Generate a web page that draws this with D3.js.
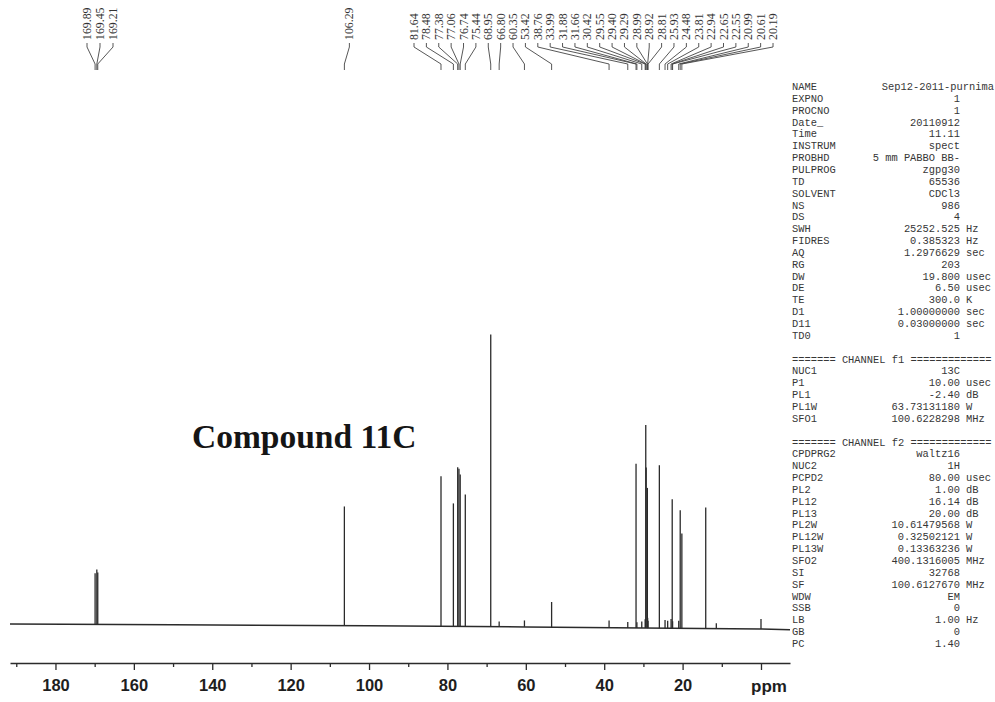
<!DOCTYPE html>
<html><head><meta charset="utf-8">
<script src="https://cdn.jsdelivr.net/npm/d3@7"></script>
<style>
html,body{margin:0;padding:0;background:#fff;}
svg{display:block;}
</style></head><body>
<svg id="chart" width="995" height="702"></svg>
<script>
// 13C peak list: chemical shift (ppm) and relative intensity (tallest = 100)
const peakShifts = [169.89,169.45,169.21,106.29,81.64,78.48,77.38,77.06,76.74,75.44,68.95,66.80,60.35,53.42,
  38.76,33.99,31.88,31.66,30.42,29.55,29.40,29.29,28.99,28.92,28.81,25.93,24.48,23.81,22.94,22.65,22.55,
  20.99,20.61,20.19,14.10,11.40,0.00];
const peakIntensities = [17.5,18.8,17.8,40.8,51.4,42.1,54.5,54.0,52.0,45.2,100,1.8,2.2,8.6,
  2.5,2.0,56.2,2.0,2.2,3.0,69.5,55.0,48.0,3.5,2.5,55.8,2.8,2.6,3.2,44.2,2.4,
  2.6,40.4,32.5,41.4,1.8,3.4];

// peak-pick labels printed above the spectrum, one group per connector fan
const labelGroupA = [169.89,169.45,169.21];
const labelGroupB = [106.29];
const labelGroupC = [81.64,78.48,77.38,77.06,76.74,75.44,68.95,66.80,60.35,53.42,38.76,33.99,31.88,31.66,
  30.42,29.55,29.40,29.29,28.99,28.92,28.81,25.93,24.48,23.81,22.94,22.65,22.55,20.99,20.61,20.19];

// slow baseline drift (ppm, relative intensity)
const baselinePpm = [191.6,150,100,60,30,0,-7.4];
const baselineLevel = [0.7,0.4,0.1,-0.3,-0.7,-1.0,-1.3];

// axis ticks
const majorTicks = [180,160,140,120,100,80,60,40,20,0];
const minorTicks = [190,170,150,130,110,90,70,50,30,10];

// acquisition / processing parameters
const acqNames  = ["EXPNO","PROCNO","Date_","Time","INSTRUM","PROBHD","PULPROG","TD","SOLVENT","NS","DS","SWH","FIDRES","AQ","RG","DW","DE","TE","D1","D11","TD0"];
const acqValues = ["1","1","20110912","11.11","spect","5 mm PABBO BB-","zgpg30","65536","CDCl3","986","4","25252.525","0.385323","1.2976629","203","19.800","6.50","300.0","1.00000000","0.03000000","1"];
const acqUnits  = ["","","","","","","","","","","","Hz","Hz","sec","","usec","usec","K","sec","sec",""];
const f1Names  = ["NUC1","P1","PL1","PL1W","SFO1"];
const f1Values = ["13C","10.00","-2.40","63.73131180","100.6228298"];
const f1Units  = ["","usec","dB","W","MHz"];
const f2Names  = ["CPDPRG2","NUC2","PCPD2","PL2","PL12","PL13","PL2W","PL12W","PL13W","SFO2","SI","SF","WDW","SSB","LB","GB","PC"];
const f2Values = ["waltz16","1H","80.00","1.00","16.14","20.00","10.61479568","0.32502121","0.13363236","400.1316005","32768","100.6127670","EM","0","1.00","0","1.40"];
const f2Units  = ["","","usec","dB","dB","dB","W","W","W","MHz","","MHz","","","Hz","",""];
const sampleName = "Sep12-2011-purnima";
const compoundTitle = "Compound 11C";

const svg = d3.select("#chart");
const ink = "#2b2b2b";

const x = d3.scaleLinear().domain([191.6, -7.4]).range([10, 790]);
const y = d3.scaleLinear().domain([0, 100]).range([626, 334]);
const drift = d3.scaleLinear().domain(baselinePpm).range(baselineLevel);

// baseline
const basePts = baselinePpm.map(p => [p, drift(p)]);
svg.append("path")
  .attr("d", d3.line().x(d => x(d[0])).y(d => y(d[1]))(basePts))
  .attr("fill", "none").attr("stroke", ink).attr("stroke-width", 1.5);

// peaks
const peaks = peakShifts.map((p, i) => ({ppm: p, h: peakIntensities[i]}));
svg.append("g").selectAll("line").data(peaks).join("line")
  .attr("x1", d => x(d.ppm)).attr("x2", d => x(d.ppm))
  .attr("y1", d => y(drift(d.ppm)))
  .attr("y2", d => y(drift(d.ppm) + d.h))
  .attr("stroke", ink).attr("stroke-width", 1.3);

// axis
const axisY = 663;
const axisG = svg.append("g").attr("transform", `translate(0,${axisY})`);
axisG.call(d3.axisBottom(x).tickValues(majorTicks).tickSize(7).tickSizeOuter(0).tickPadding(9)
  .tickFormat(d => d === 0 ? "" : d));
axisG.append("g").call(d3.axisBottom(x).tickValues(minorTicks).tickSize(4).tickSizeOuter(0).tickFormat(""))
  .select(".domain").remove();
axisG.selectAll(".domain").attr("stroke", ink).attr("stroke-width", 1.6);
axisG.selectAll(".tick line").attr("stroke", ink).attr("stroke-width", 1.3);
axisG.selectAll(".tick text").attr("fill", "#1e1e1e")
  .style("font-family", "Liberation Sans, Arial, sans-serif").style("font-weight", "bold").style("font-size", "16.5px");
svg.append("text").attr("x", x(0) + 8).attr("y", axisY + 29).attr("text-anchor", "middle")
  .attr("fill", "#1e1e1e")
  .style("font-family", "Liberation Sans, Arial, sans-serif").style("font-weight", "bold").style("font-size", "17px")
  .text("ppm");

// peak labels with connector fans
const labelFont = "Liberation Serif, Times New Roman, serif";
function drawLabels(group, startX, step) {
  const g = svg.append("g");
  group.forEach((p, i) => {
    const lx = startX + i * step;
    const px = x(p);
    g.append("path")
      .attr("d", `M${lx},43 L${lx},47 L${px},64 L${px},70`)
      .attr("fill", "none").attr("stroke", "#444").attr("stroke-width", 0.9);
    g.append("text")
      .attr("transform", `translate(${lx + 4},40) rotate(-90)`)
      .attr("fill", "#333")
      .style("font-family", labelFont).style("font-size", "11.8px")
      .text(p.toFixed(2));
  });
}
drawLabels(labelGroupA, 87, 13);
drawLabels(labelGroupB, x(labelGroupB[0]) + 5, 0);
drawLabels(labelGroupC, 414, 12.38);

// title
svg.append("text").attr("x", 192).attr("y", 448)
  .attr("fill", "#151515")
  .style("font-family", "Liberation Serif, Times New Roman, serif").style("font-weight", "bold").style("font-size", "33.5px")
  .text(compoundTitle);

// parameter table
const tbl = svg.append("g").attr("fill", "#363636")
  .style("font-family", "Liberation Mono, Courier New, monospace").style("font-size", "10.4px");
const colName = 792, colValue = 960, colUnit = 966, rightEdge = 994;
const row0 = 90, rowH = 11.85;
let r = 0;
function rowY(k) { return row0 + k * rowH; }
tbl.append("text").attr("x", colName).attr("y", rowY(r)).text("NAME");
tbl.append("text").attr("x", rightEdge).attr("y", rowY(r)).attr("text-anchor", "end").text(sampleName);
r++;
function section(names, values, units) {
  names.forEach((n, i) => {
    tbl.append("text").attr("x", colName).attr("y", rowY(r)).text(n);
    tbl.append("text").attr("x", colValue).attr("y", rowY(r)).attr("text-anchor", "end").text(values[i]);
    if (units[i]) tbl.append("text").attr("x", colUnit).attr("y", rowY(r)).text(units[i]);
    r++;
  });
}
section(acqNames, acqValues, acqUnits);
function separator(label) {
  r++;
  tbl.append("text").attr("x", colName).attr("y", rowY(r)).text("======= " + label + " =============");
  r++;
}
separator("CHANNEL f1");
section(f1Names, f1Values, f1Units);
separator("CHANNEL f2");
section(f2Names, f2Values, f2Units);
</script>
</body></html>
